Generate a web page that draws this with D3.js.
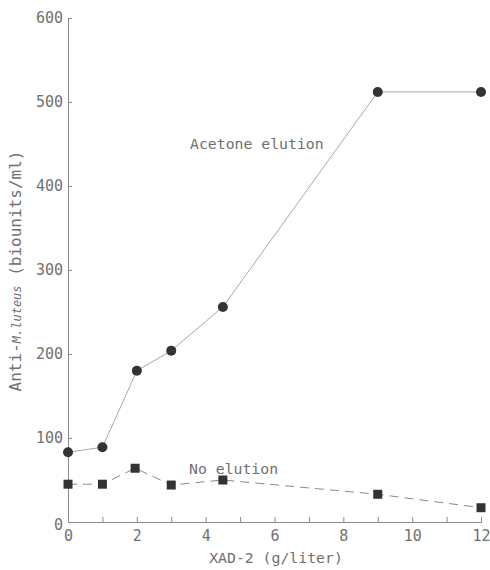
<!DOCTYPE html>
<html>
<head>
<meta charset="utf-8">
<script src="https://cdn.jsdelivr.net/npm/d3@7"></script>
<style>
  html, body { margin: 0; padding: 0; background: #fff; }
  svg { display: block; }
  text { font-family: "DejaVu Sans Mono", "Liberation Mono", monospace; fill: #707070; }
</style>
</head>
<body>
<svg id="chart" width="490" height="570"></svg>
<script>
// ---- data ----
const xadDose      = [0, 1, 2, 3, 4.5, 9, 12];           // XAD-2 (g/liter)
const acetoneElution = [83, 89, 180, 204, 256, 512, 512]; // biounits/ml
const noElutionX   = [0, 1, 1.95, 3, 4.5, 9, 12];
const noElution    = [45, 45, 64, 44, 50, 33, 17];
const xTickLabels  = [0, 2, 4, 6, 8, 10, 12];
const xMinorTicks  = [1, 2, 3, 4, 5, 6, 7, 8, 9, 10, 11, 12];
const yTickLabels  = [0, 100, 200, 300, 400, 500, 600];

const svg = d3.select("#chart");
const x = d3.scaleLinear().domain([0, 12]).range([68, 481]);
const y = d3.scaleLinear().domain([0, 600]).range([522, 18]);

const axisColor = "#8a8a8a";

// X axis
const xAxisMinor = svg.append("g").attr("transform", `translate(0,${y(0)})`)
  .call(d3.axisTop(x).tickValues(xMinorTicks).tickSize(5).tickFormat(""));
const xAxis = svg.append("g").attr("transform", `translate(0,${y(0)})`)
  .call(d3.axisBottom(x).tickValues(xTickLabels).tickSize(0).tickPadding(8).tickFormat(d3.format("d")));
[xAxisMinor, xAxis].forEach(g => {
  g.select(".domain").attr("stroke", axisColor).attr("stroke-width", 1);
  g.selectAll(".tick line").attr("stroke", axisColor);
});
xAxis.selectAll("text").attr("font-size", 15).attr("fill", "#858585")
  .attr("font-family", "DejaVu Sans Mono, monospace");

// Y axis
const yAxis = svg.append("g").attr("transform", `translate(${x(0)},0)`)
  .call(d3.axisRight(y).tickValues(yTickLabels).tickSize(4).tickFormat(""));
yAxis.select(".domain").attr("stroke", axisColor);
yAxis.selectAll(".tick line").attr("stroke", axisColor);
yAxis.selectAll(".tick").filter(d => d === 0).remove();

svg.append("g").selectAll("text").data(yTickLabels).join("text")
  .attr("x", x(0) - 5)
  .attr("y", d => y(d) + (d === 0 ? 3 : 0))
  .attr("dy", "0.35em")
  .attr("text-anchor", "end")
  .attr("font-size", 15)
  .attr("fill", "#858585")
  .text(d => d);

// Lines
const lineAc = d3.line().x((d, i) => x(xadDose[i])).y(d => y(d));
svg.append("path").datum(acetoneElution)
  .attr("d", lineAc).attr("fill", "none").attr("stroke", "#a8a8a8").attr("stroke-width", 1);

const lineNo = d3.line().x((d, i) => x(noElutionX[i])).y(d => y(d));
svg.append("path").datum(noElution)
  .attr("d", lineNo).attr("fill", "none").attr("stroke", "#8a8a8a")
  .attr("stroke-width", 1).attr("stroke-dasharray", "9,6");

// Markers
svg.append("g").selectAll("circle").data(acetoneElution).join("circle")
  .attr("cx", (d, i) => x(xadDose[i])).attr("cy", d => y(d))
  .attr("r", 5).attr("fill", "#333");

const sq = 9;
svg.append("g").selectAll("rect").data(noElution).join("rect")
  .attr("x", (d, i) => x(noElutionX[i]) - sq / 2).attr("y", d => y(d) - sq / 2)
  .attr("width", sq).attr("height", sq).attr("fill", "#333");

// Annotations
svg.append("text").attr("x", 190).attr("y", 149).attr("font-size", 14.8)
  .attr("fill", "#606060").text("Acetone elution");
svg.append("text").attr("x", 189).attr("y", 474).attr("font-size", 14.8)
  .attr("fill", "#606060").text("No elution");

// Axis titles
svg.append("text").attr("x", 276).attr("y", 563)
  .attr("text-anchor", "middle").attr("font-size", 14.8).attr("fill", "#606060")
  .text("XAD-2 (g/liter)");

const yl = svg.append("text")
  .attr("transform", `translate(21,${271}) rotate(-90)`)
  .attr("text-anchor", "middle").attr("font-size", 16).attr("fill", "#6a6a6a");
yl.append("tspan").text("Anti-");
yl.append("tspan").attr("font-style", "italic").attr("font-size", 12).text("M.luteus");
yl.append("tspan").text(" (biounits/ml)");
</script>
</body>
</html>
